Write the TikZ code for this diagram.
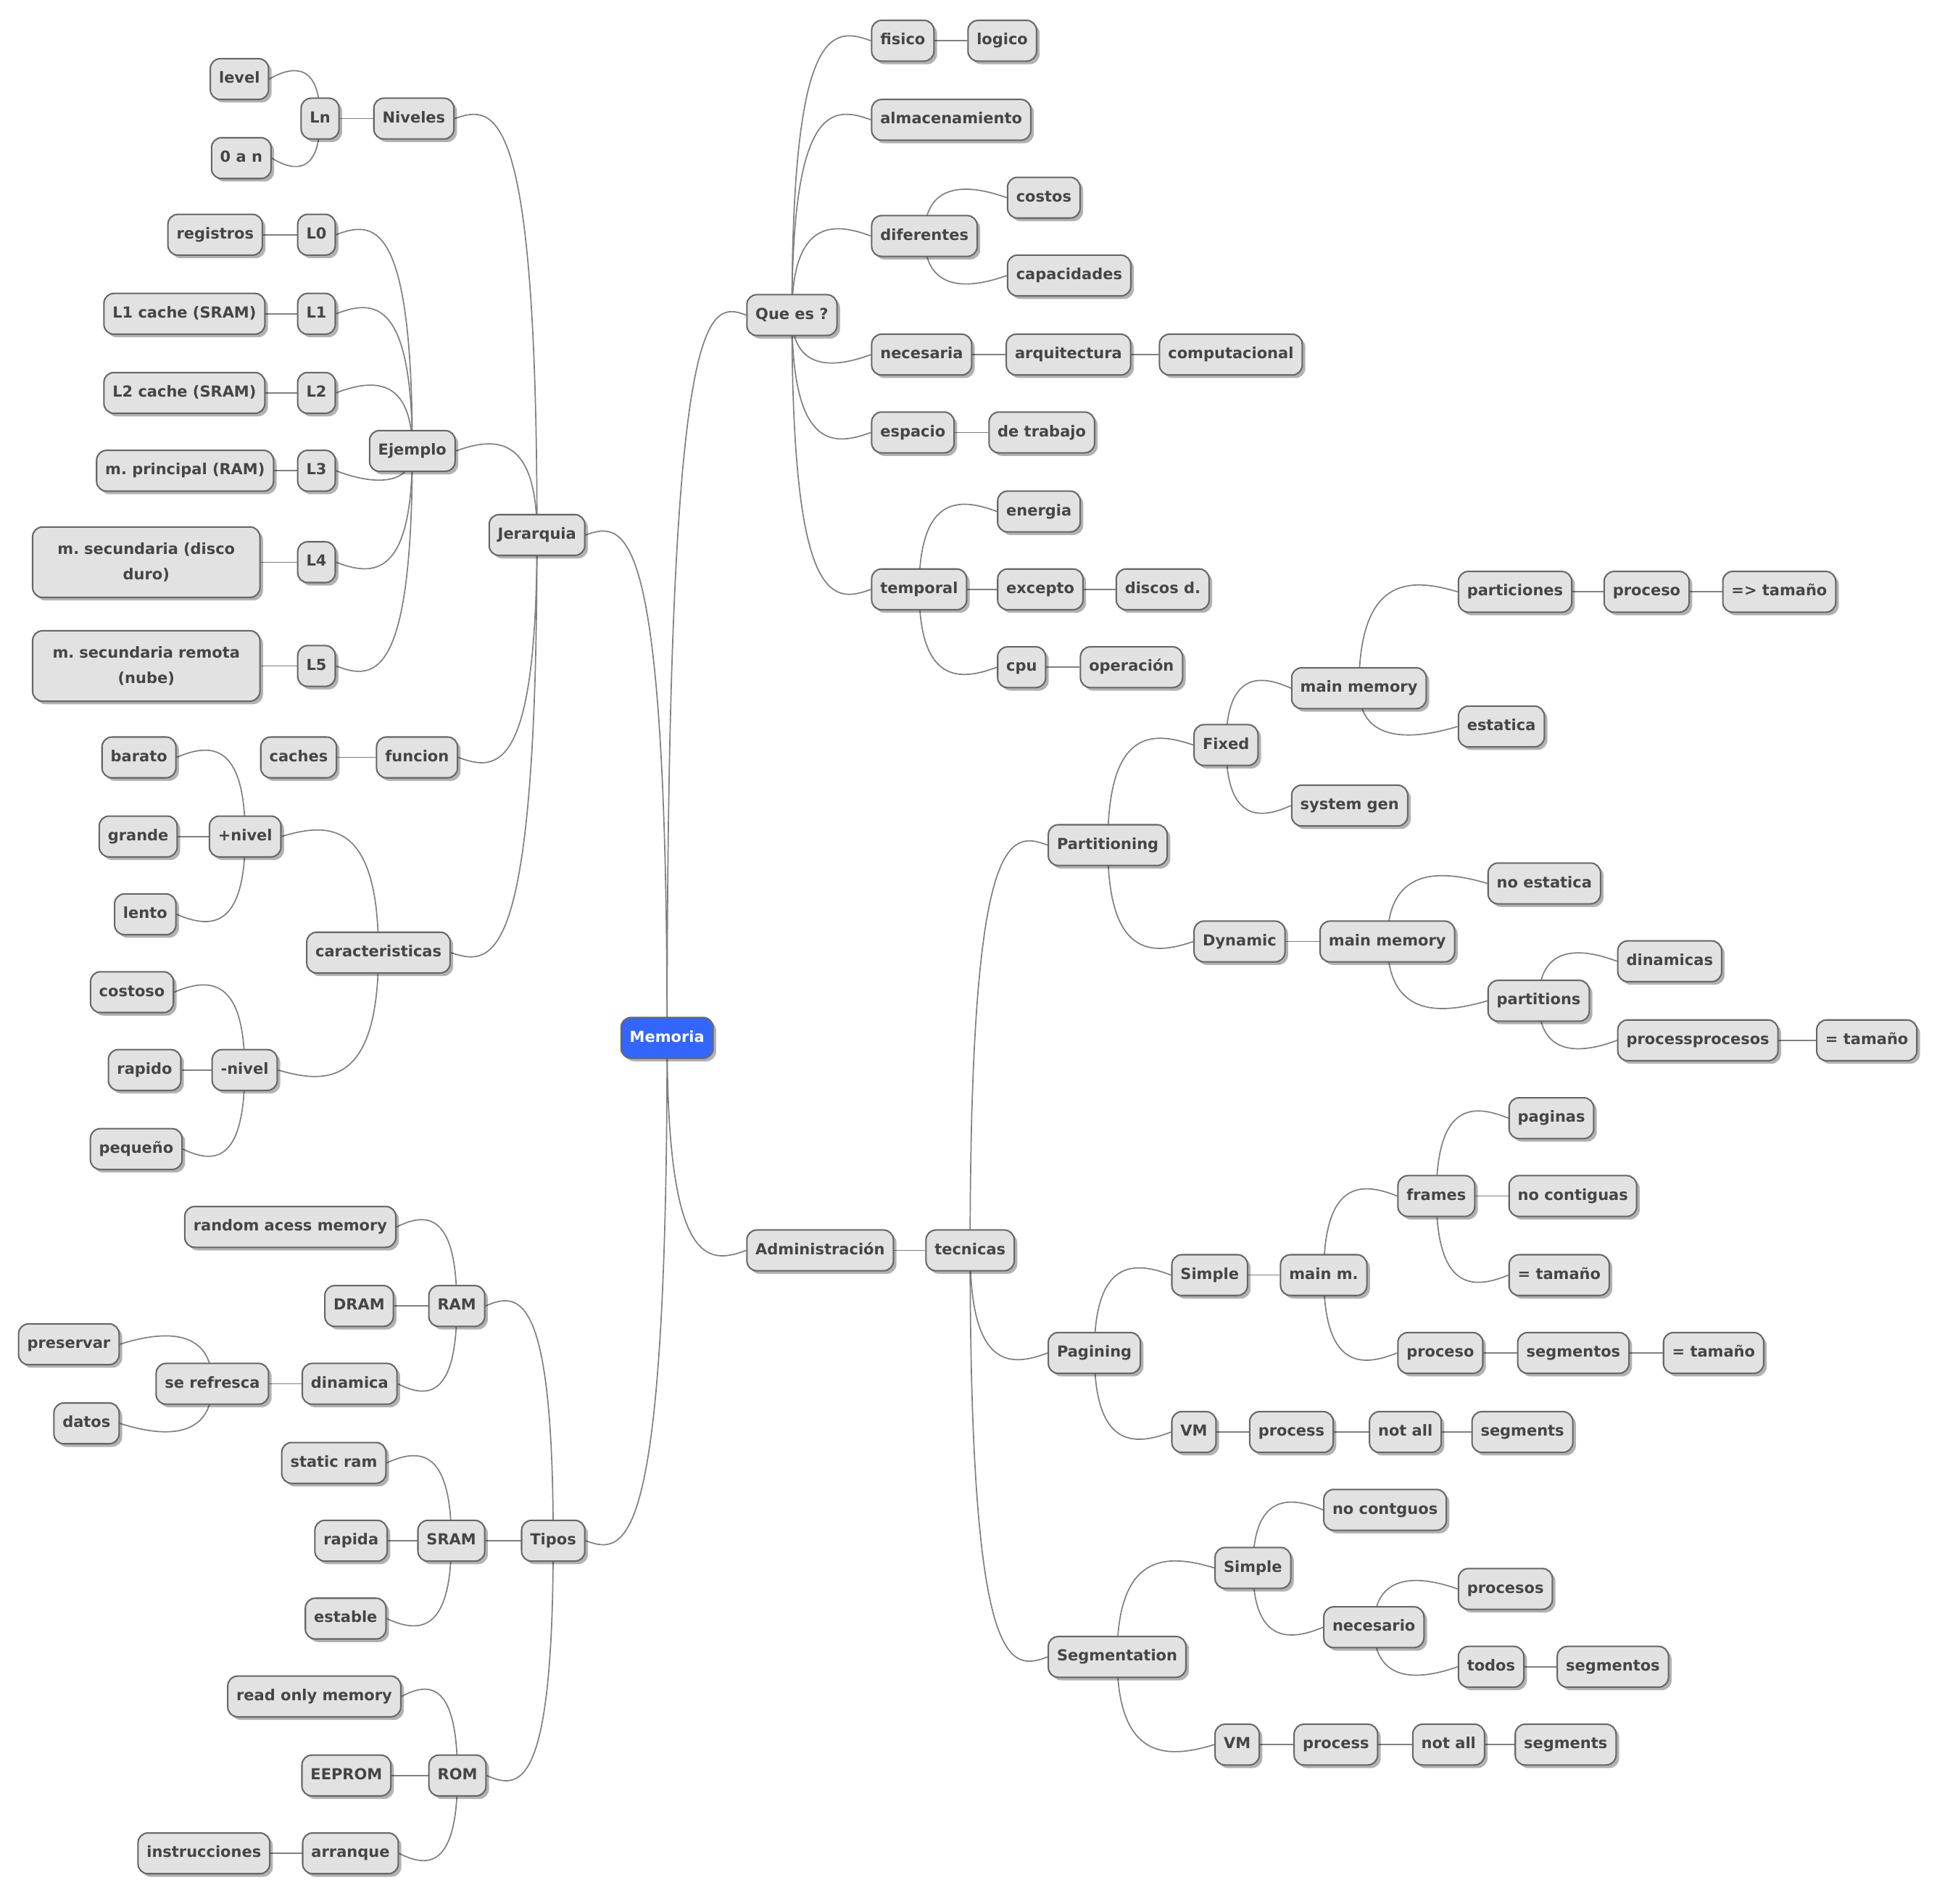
\documentclass[tikz,border=0pt]{standalone}
\usepackage{fontspec}
\setmainfont{DejaVu Sans}
\usepackage{tikz}
\usetikzlibrary{calc, shadows}

\definecolor{boxfill}{HTML}{E2E2E2}
\definecolor{boxedge}{HTML}{666666}
\definecolor{boxtext}{HTML}{454545}
\definecolor{linkgray}{HTML}{808080}
\definecolor{rootblue}{HTML}{3366FF}

\pgfdeclarelayer{bg}
\pgfsetlayers{bg,main}
\frenchspacing

% branch to a child on the right / on the left
\newcommand\rlink[2]{\draw[link] let \p1=(#1.center), \p2=(#2.west) in
  (\p1) .. controls (\x1,{\y2+12pt*sign(\y2-\y1)}) and ({0.5*\x1+0.5*\x2},{\y2+12pt*sign(\y2-\y1)}) .. (\p2);}
\newcommand\llink[2]{\draw[link] let \p1=(#1.center), \p2=(#2.east) in
  (\p1) .. controls (\x1,{\y2+12pt*sign(\y2-\y1)}) and ({0.5*\x1+0.5*\x2},{\y2+12pt*sign(\y2-\y1)}) .. (\p2);}

\begin{document}
\begin{tikzpicture}[x=1pt, y=-1pt,
    box/.style={draw=boxedge, line width=1.2pt, fill=boxfill, rounded corners=8pt,
      text=boxtext, font=\fontsize{12.3}{21}\selectfont\bfseries,
      minimum height=33pt, inner xsep=7pt, inner ysep=3pt,
      text height=9.2pt, text depth=2.6pt,
      drop shadow={shadow xshift=2.5pt, shadow yshift=-2.5pt, opacity=0.3, fill=black}},
    rbox/.style={box, anchor=west},
    lbox/.style={box, anchor=east},
    twoline/.style={text width=170pt, align=center, minimum height=57pt,
      text height=, text depth=},
    link/.style={draw=linkgray, line width=1pt}]

  \begin{pgfonlayer}{bg}
    \fill[white] (0,0) rectangle (1568,1541);
  \end{pgfonlayer}
  \useasboundingbox (0,0) rectangle (1568,1541);

  \node[box, fill=rootblue, text=white] (mem) at (540,840) {Memoria};

  % Que es ?
  \node[rbox] (qe) at (604,255) {Que es ?};
  \node[rbox] (fis) at (705,33) {fisico};
  \node[rbox] (log) at (783,33) {logico};
  \node[rbox] (alm) at (705,97) {almacenamiento};
  \node[rbox] (dif) at (705,191) {diferentes};
  \node[rbox] (cos) at (815,160) {costos};
  \node[rbox] (cap) at (815,223) {capacidades};
  \node[rbox] (nec) at (705,287) {necesaria};
  \node[rbox] (arq) at (814,287) {arquitectura};
  \node[rbox] (comp) at (938,287) {computacional};
  \node[rbox] (esp) at (705,350) {espacio};
  \node[rbox] (trab) at (800,350) {de trabajo};
  \node[rbox] (temp) at (705,477) {temporal};
  \node[rbox] (ene) at (807,414) {energia};
  \node[rbox] (exc) at (807,477) {excepto};
  \node[rbox] (disc) at (903,477) {discos d.};
  \node[rbox] (cpu) at (807,540) {cpu};
  \node[rbox] (oper) at (874,540) {operación};

  % Administracion
  \node[rbox] (adm) at (604,1012) {Administración};
  \node[rbox] (tec) at (749,1012) {tecnicas};
  \node[rbox] (part) at (848,684) {Partitioning};
  \node[rbox] (fix) at (966,603) {Fixed};
  \node[rbox] (mma) at (1045,557) {main memory};
  \node[rbox] (parts) at (1180,479) {particiones};
  \node[rbox] (proa) at (1298,479) {proceso};
  \node[rbox] (tama) at (1394,479) {=> tamaño};
  \node[rbox] (estat) at (1180,588) {estatica};
  \node[rbox] (sysg) at (1045,652) {system gen};
  \node[rbox] (dyn) at (966,762) {Dynamic};
  \node[rbox] (mmb) at (1068,762) {main memory};
  \node[rbox] (noest) at (1204,715) {no estatica};
  \node[rbox] (ptt) at (1204,810) {partitions};
  \node[rbox] (dinam) at (1309,778) {dinamicas};
  \node[rbox] (procs) at (1309,842) {processprocesos};
  \node[rbox] (tamb) at (1470,842) {= tamaño};
  \node[rbox] (pag) at (848,1095) {Pagining};
  \node[rbox] (sima) at (948,1032) {Simple};
  \node[rbox] (mmp) at (1036,1032) {main m.};
  \node[rbox] (frm) at (1131,968) {frames};
  \node[rbox] (pags) at (1221,905) {paginas};
  \node[rbox] (nocont) at (1221,968) {no contiguas};
  \node[rbox] (tamc) at (1221,1032) {= tamaño};
  \node[rbox] (prob) at (1131,1095) {proceso};
  \node[rbox] (sega) at (1228,1095) {segmentos};
  \node[rbox] (tamd) at (1346,1095) {= tamaño};
  \node[rbox] (vma) at (948,1159) {VM};
  \node[rbox] (prca) at (1011,1159) {process};
  \node[rbox] (nala) at (1108,1159) {not all};
  \node[rbox] (sgsa) at (1191,1159) {segments};
  \node[rbox] (segt) at (848,1341) {Segmentation};
  \node[rbox] (simb) at (983,1269) {Simple};
  \node[rbox] (nocg) at (1071,1222) {no contguos};
  \node[rbox] (neces) at (1071,1317) {necesario};
  \node[rbox] (procss) at (1180,1286) {procesos};
  \node[rbox] (todos) at (1180,1349) {todos};
  \node[rbox] (segb) at (1260,1349) {segmentos};
  \node[rbox] (vmb) at (983,1412) {VM};
  \node[rbox] (prcb) at (1047,1412) {process};
  \node[rbox] (nalb) at (1143,1412) {not all};
  \node[rbox] (sgsb) at (1226,1412) {segments};

  % Jerarquia
  \node[lbox] (jer) at (474,433) {Jerarquia};
  \node[lbox] (niv) at (368,96) {Niveles};
  \node[lbox] (ln) at (275,96) {Ln};
  \node[lbox] (lev) at (218,64) {level};
  \node[lbox] (zan) at (220,128) {0 a n};
  \node[lbox] (ejm) at (369,365) {Ejemplo};
  \node[lbox] (lz) at (272,190) {L0};
  \node[lbox] (reg) at (213,190) {registros};
  \node[lbox] (la) at (272,254) {L1};
  \node[lbox] (lac) at (215,254) {L1 cache (SRAM)};
  \node[lbox] (lb) at (272,318) {L2};
  \node[lbox] (lbc) at (215,318) {L2 cache (SRAM)};
  \node[lbox] (lc) at (272,381) {L3};
  \node[lbox] (mpr) at (222,381) {m. principal (RAM)};
  \node[lbox] (ld) at (272,455) {L4};
  \node[lbox, twoline] (msd) at (211,455) {m. secundaria (disco\\duro)};
  \node[lbox] (le) at (272,539) {L5};
  \node[lbox, twoline] (msr) at (211,539) {m. secundaria remota\\(nube)};
  \node[lbox] (fun) at (371,613) {funcion};
  \node[lbox] (cach) at (273,613) {caches};
  \node[lbox] (car) at (365,771) {caracteristicas};
  \node[lbox] (mas) at (228,677) {+nivel};
  \node[lbox] (bar) at (143,613) {barato};
  \node[lbox] (gra) at (144,677) {grande};
  \node[lbox] (len) at (143,740) {lento};
  \node[lbox] (men) at (225,866) {-nivel};
  \node[lbox] (cost) at (141,803) {costoso};
  \node[lbox] (rap) at (147,866) {rapido};
  \node[lbox] (peq) at (148,930) {pequeño};

  % Tipos
  \node[lbox] (tip) at (474,1247) {Tipos};
  \node[lbox] (ram) at (393,1057) {RAM};
  \node[lbox] (rand) at (321,993) {random acess memory};
  \node[lbox] (dram) at (319,1057) {DRAM};
  \node[lbox] (din) at (322,1120) {dinamica};
  \node[lbox] (ref) at (218,1120) {se refresca};
  \node[lbox] (pres) at (97,1088) {preservar};
  \node[lbox] (dat) at (97,1152) {datos};
  \node[lbox] (sram) at (393,1247) {SRAM};
  \node[lbox] (stat) at (313,1184) {static ram};
  \node[lbox] (rpd) at (314,1247) {rapida};
  \node[lbox] (est) at (313,1310) {estable};
  \node[lbox] (rom) at (394,1437) {ROM};
  \node[lbox] (rdo) at (325,1373) {read only memory};
  \node[lbox] (eep) at (317,1437) {EEPROM};
  \node[lbox] (arr) at (323,1500) {arranque};
  \node[lbox] (ins) at (219,1500) {instrucciones};

  \begin{pgfonlayer}{bg}
    \foreach \a/\b in {mem/qe, mem/adm, qe/fis, qe/alm, qe/dif, qe/nec, qe/esp, qe/temp,
        fis/log, dif/cos, dif/cap, nec/arq, arq/comp, esp/trab,
        temp/ene, temp/exc, temp/cpu, exc/disc, cpu/oper,
        adm/tec, tec/part, tec/pag, tec/segt,
        part/fix, part/dyn, fix/mma, fix/sysg, mma/parts, mma/estat,
        parts/proa, proa/tama, dyn/mmb, mmb/noest, mmb/ptt,
        ptt/dinam, ptt/procs, procs/tamb,
        pag/sima, pag/vma, sima/mmp, mmp/frm, mmp/prob,
        frm/pags, frm/nocont, frm/tamc, prob/sega, sega/tamd,
        vma/prca, prca/nala, nala/sgsa,
        segt/simb, segt/vmb, simb/nocg, simb/neces,
        neces/procss, neces/todos, todos/segb,
        vmb/prcb, prcb/nalb, nalb/sgsb}
      {\rlink{\a}{\b}}
    \foreach \a/\b in {mem/jer, mem/tip, jer/niv, jer/ejm, jer/fun, jer/car,
        niv/ln, ln/lev, ln/zan,
        ejm/lz, ejm/la, ejm/lb, ejm/lc, ejm/ld, ejm/le,
        lz/reg, la/lac, lb/lbc, lc/mpr, ld/msd, le/msr,
        fun/cach, car/mas, car/men,
        mas/bar, mas/gra, mas/len, men/cost, men/rap, men/peq,
        tip/ram, tip/sram, tip/rom, ram/rand, ram/dram, ram/din,
        din/ref, ref/pres, ref/dat,
        sram/stat, sram/rpd, sram/est,
        rom/rdo, rom/eep, rom/arr, arr/ins}
      {\llink{\a}{\b}}
  \end{pgfonlayer}
\end{tikzpicture}
\end{document}
